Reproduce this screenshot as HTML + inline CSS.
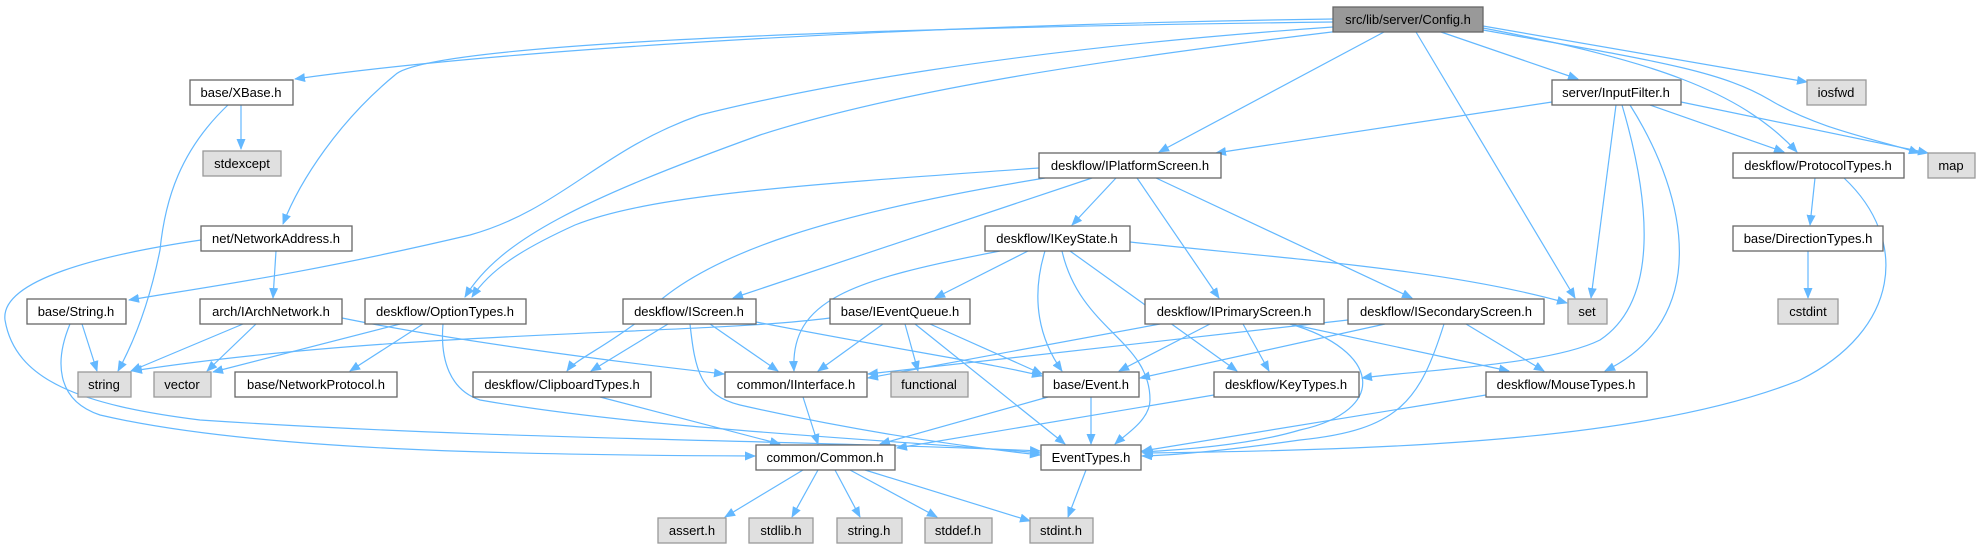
<!DOCTYPE html>
<html><head><meta charset="utf-8"><style>
html,body{margin:0;padding:0;background:#fff;}
svg{display:block;}
text{font-family:"Liberation Sans",sans-serif;font-size:13px;fill:#000;text-anchor:middle;}
.n{fill:#fff;stroke:#666;stroke-width:1.3;}
.g{fill:#e0e0e0;stroke:#999;stroke-width:1.3;}
.r{fill:#999;stroke:#666;stroke-width:1.3;}
path.e{fill:none;stroke:#63b8ff;stroke-width:1.2;marker-end:url(#a);}
</style></head><body>
<svg width="1981" height="544" viewBox="0 0 1981 544" xmlns="http://www.w3.org/2000/svg">
<defs><marker id="a" markerWidth="11" markerHeight="9" refX="10" refY="4.5" orient="auto" markerUnits="userSpaceOnUse"><path d="M0,0 L11,4.5 L0,9 z" fill="#63b8ff"/></marker></defs>
<g>
<!-- Config edges -->
<path class="e" d="M1333,19 C900,25 500,50 295,79"/>
<path class="e" d="M1333,22 C700,30 420,50 395,75 C340,120 300,180 283,224"/>
<path class="e" d="M1333,27 C1000,50 800,90 700,115 C600,150 560,210 470,235 C300,275 200,288 129,300"/>
<path class="e" d="M1340,31 C1100,60 900,90 760,135 C580,200 500,240 465,297"/>
<path class="e" d="M1384,32 L1159,152"/>
<path class="e" d="M1416,32 L1575,298"/>
<path class="e" d="M1441,32 L1578,79"/>
<path class="e" d="M1483,26 L1807,82"/>
<path class="e" d="M1483,28 C1650,60 1740,90 1797,152"/>
<path class="e" d="M1483,30 C1650,60 1720,70 1770,100 C1820,130 1880,140 1919,153"/>
<!-- InputFilter -->
<path class="e" d="M1552,102 L1216,153"/>
<path class="e" d="M1616,105 L1591,298"/>
<path class="e" d="M1622,105 C1650,200 1660,300 1600,340 C1550,365 1420,370 1362,378"/>
<path class="e" d="M1630,105 C1690,200 1710,320 1605,371"/>
<path class="e" d="M1650,105 L1784,152"/>
<path class="e" d="M1681,102 L1928,153"/>
<!-- IPlatformScreen -->
<path class="e" d="M1039,168 C800,185 650,195 575,225 C520,250 490,270 472,297"/>
<path class="e" d="M1045,178 C850,210 700,250 640,320 C600,350 575,360 567,371"/>
<path class="e" d="M1092,178 L733,298"/>
<path class="e" d="M1116,178 L1072,225"/>
<path class="e" d="M1137,178 L1219,298"/>
<path class="e" d="M1156,178 L1412,298"/>
<!-- ProtocolTypes -->
<path class="e" d="M1815,178 L1810,225"/>
<path class="e" d="M1844,178 C1910,240 1900,330 1800,380 C1650,440 1400,450 1143,453"/>
<path class="e" d="M1808,251 L1808,298"/>
<!-- NetworkAddress -->
<path class="e" d="M276,251 L273,298"/>
<path class="e" d="M201,240 C100,255 0,280 5,320 C15,380 80,405 200,420 C500,440 800,440 1040,451"/>
<!-- String.h -->
<path class="e" d="M82,324 L97,371"/>
<path class="e" d="M70,324 C55,360 55,400 100,415 C250,450 500,455 755,456"/>
<!-- XBase -->
<path class="e" d="M229,104 C180,150 165,200 160,250 C150,300 135,340 118,371"/>
<path class="e" d="M241,104 L241,149"/>
<!-- IArchNetwork -->
<path class="e" d="M243,324 L131,371"/>
<path class="e" d="M256,324 L207,371"/>
<path class="e" d="M342,318 C450,340 600,360 724,374"/>
<!-- OptionTypes -->
<path class="e" d="M400,324 L213,372"/>
<path class="e" d="M423,324 L350,371"/>
<path class="e" d="M443,324 C440,360 450,390 480,400 C650,430 900,440 1040,453"/>
<!-- IScreen -->
<path class="e" d="M668,324 L591,371"/>
<path class="e" d="M710,324 L778,371"/>
<path class="e" d="M756,322 C900,350 1000,365 1042,376"/>
<path class="e" d="M690,324 C695,370 700,395 740,405 C850,430 950,445 1040,455"/>
<!-- IEventQueue -->
<path class="e" d="M830,318 C700,335 400,330 132,371"/>
<path class="e" d="M883,324 L818,371"/>
<path class="e" d="M905,324 L918,371"/>
<path class="e" d="M930,324 L1042,374"/>
<path class="e" d="M915,324 L1065,444"/>
<!-- IKeyState -->
<path class="e" d="M1130,242 C1300,260 1450,270 1567,303"/>
<path class="e" d="M1028,251 L935,298"/>
<path class="e" d="M1000,251 C850,280 790,300 794,371"/>
<path class="e" d="M1045,251 C1030,300 1040,340 1062,371"/>
<path class="e" d="M1062,251 C1080,330 1150,340 1150,400 C1150,420 1125,435 1115,444"/>
<path class="e" d="M1070,251 L1237,371"/>
<!-- IPrimaryScreen -->
<path class="e" d="M1160,324 L868,378"/>
<path class="e" d="M1210,324 L1119,371"/>
<path class="e" d="M1243,324 L1269,371"/>
<path class="e" d="M1290,324 L1509,371"/>
<path class="e" d="M1290,324 C1380,350 1390,410 1300,430 C1250,445 1180,450 1142,452"/>
<!-- ISecondaryScreen -->
<path class="e" d="M1348,320 L868,374"/>
<path class="e" d="M1385,324 L1140,378"/>
<path class="e" d="M1466,324 L1544,371"/>
<path class="e" d="M1444,324 C1420,400 1400,430 1300,440 C1230,450 1180,455 1142,456"/>
<!-- lower -->
<path class="e" d="M1048,397 L880,444"/>
<path class="e" d="M1091,397 L1091,444"/>
<path class="e" d="M1214,395 L897,448"/>
<path class="e" d="M1486,395 L1142,451"/>
<path class="e" d="M600,397 L780,444"/>
<path class="e" d="M803,397 L818,444"/>
<path class="e" d="M803,470 L725,517"/>
<path class="e" d="M818,470 L792,517"/>
<path class="e" d="M835,470 L860,517"/>
<path class="e" d="M850,470 L937,517"/>
<path class="e" d="M865,470 L1030,521"/>
<path class="e" d="M1086,470 L1068,517"/>
</g>
<g>
<rect class="r" x="1333" y="7" width="150" height="25"/><text x="1408" y="24">src/lib/server/Config.h</text>
<rect class="n" x="190" y="80" width="103" height="25"/><text x="241" y="97">base/XBase.h</text>
<rect class="n" x="1552" y="80" width="129" height="25"/><text x="1616" y="97">server/InputFilter.h</text>
<rect class="g" x="1807" y="80" width="59" height="25"/><text x="1836" y="97">iosfwd</text>
<rect class="g" x="203" y="151" width="78" height="25"/><text x="242" y="168">stdexcept</text>
<rect class="n" x="1039" y="153" width="182" height="25"/><text x="1130" y="170">deskflow/IPlatformScreen.h</text>
<rect class="n" x="1733" y="153" width="171" height="25"/><text x="1818" y="170">deskflow/ProtocolTypes.h</text>
<rect class="g" x="1928" y="153" width="47" height="25"/><text x="1951" y="170">map</text>
<rect class="n" x="201" y="226" width="151" height="25"/><text x="276" y="243">net/NetworkAddress.h</text>
<rect class="n" x="985" y="226" width="145" height="25"/><text x="1057" y="243">deskflow/IKeyState.h</text>
<rect class="n" x="1733" y="226" width="150" height="25"/><text x="1808" y="243">base/DirectionTypes.h</text>
<rect class="n" x="27" y="299" width="99" height="25"/><text x="76" y="316">base/String.h</text>
<rect class="n" x="200" y="299" width="142" height="25"/><text x="271" y="316">arch/IArchNetwork.h</text>
<rect class="n" x="365" y="299" width="161" height="25"/><text x="445" y="316">deskflow/OptionTypes.h</text>
<rect class="n" x="623" y="299" width="133" height="25"/><text x="689" y="316">deskflow/IScreen.h</text>
<rect class="n" x="830" y="299" width="140" height="25"/><text x="900" y="316">base/IEventQueue.h</text>
<rect class="n" x="1145" y="299" width="179" height="25"/><text x="1234" y="316">deskflow/IPrimaryScreen.h</text>
<rect class="n" x="1348" y="299" width="196" height="25"/><text x="1446" y="316">deskflow/ISecondaryScreen.h</text>
<rect class="g" x="1568" y="299" width="39" height="25"/><text x="1587" y="316">set</text>
<rect class="g" x="1778" y="299" width="60" height="25"/><text x="1808" y="316">cstdint</text>
<rect class="g" x="78" y="372" width="53" height="25"/><text x="104" y="389">string</text>
<rect class="g" x="154" y="372" width="57" height="25"/><text x="182" y="389">vector</text>
<rect class="n" x="235" y="372" width="162" height="25"/><text x="316" y="389">base/NetworkProtocol.h</text>
<rect class="n" x="473" y="372" width="178" height="25"/><text x="562" y="389">deskflow/ClipboardTypes.h</text>
<rect class="n" x="725" y="372" width="142" height="25"/><text x="796" y="389">common/IInterface.h</text>
<rect class="g" x="891" y="372" width="77" height="25"/><text x="929" y="389">functional</text>
<rect class="n" x="1043" y="372" width="96" height="25"/><text x="1091" y="389">base/Event.h</text>
<rect class="n" x="1214" y="372" width="145" height="25"/><text x="1286" y="389">deskflow/KeyTypes.h</text>
<rect class="n" x="1486" y="372" width="161" height="25"/><text x="1566" y="389">deskflow/MouseTypes.h</text>
<rect class="n" x="756" y="445" width="139" height="25"/><text x="825" y="462">common/Common.h</text>
<rect class="n" x="1041" y="445" width="100" height="25"/><text x="1091" y="462">EventTypes.h</text>
<rect class="g" x="658" y="518" width="68" height="25"/><text x="692" y="535">assert.h</text>
<rect class="g" x="749" y="518" width="64" height="25"/><text x="781" y="535">stdlib.h</text>
<rect class="g" x="837" y="518" width="65" height="25"/><text x="869" y="535">string.h</text>
<rect class="g" x="925" y="518" width="67" height="25"/><text x="958" y="535">stddef.h</text>
<rect class="g" x="1030" y="518" width="63" height="25"/><text x="1061" y="535">stdint.h</text>
</g>
</svg>
</body></html>
